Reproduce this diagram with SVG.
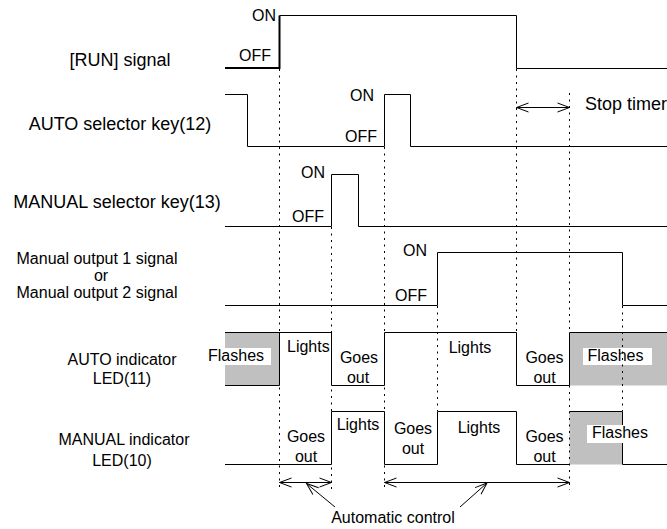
<svg xmlns="http://www.w3.org/2000/svg" width="667" height="529" viewBox="0 0 667 529">
<defs>
<style>
text{font-family:"Liberation Sans",Arial,sans-serif;font-size:16px;fill:#000}
.big{font-size:18px}
.m{text-anchor:middle}
.e{text-anchor:end}
.sig{fill:none;stroke:#000;stroke-width:1}
.thick{fill:none;stroke:#000;stroke-width:2}
.dot{fill:none;stroke:#000;stroke-width:1;stroke-dasharray:2 4.5}
.arr{fill:none;stroke:#000;stroke-width:1;marker-end:url(#ah)}
.darr{fill:none;stroke:#000;stroke-width:1;marker-start:url(#ah);marker-end:url(#ah)}
.gray{fill:#c0c0c0;stroke:none}
.wbg{fill:#fff;stroke:none}
</style>
<marker id="ah" viewBox="-13 -6 14 12" refX="0" refY="0" markerWidth="14" markerHeight="12" markerUnits="userSpaceOnUse" orient="auto-start-reverse">
<path d="M-12,-4.5 L0,0 L-12,4.5" fill="none" stroke="#000" stroke-width="1"/>
</marker>
</defs>
<rect width="667" height="529" fill="#fff"/>

<g id="run-signal">
<text class="big m" x="120" y="66">[RUN] signal</text>
<text class="e" x="276" y="21">ON</text>
<text class="e" x="271" y="61">OFF</text>
<path class="thick" d="M225,68 H279.5 V15.5"/>
<path class="sig" d="M279.5,15.5 H516.5 V68.5 H667"/>
</g>

<g id="auto-selector-key">
<text class="big m" x="120" y="130">AUTO selector key(12)</text>
<text class="e" x="374" y="101">ON</text>
<text class="e" x="377" y="142">OFF</text>
<path class="sig" d="M225,94.5 H247.5 V146.5 H384.5 V94.5 H410.5 V146.5 H667"/>
<text class="big" x="585" y="110">Stop timer</text>
</g>

<g id="manual-selector-key">
<text class="big m" x="117" y="208">MANUAL selector key(13)</text>
<text class="e" x="325" y="178">ON</text>
<text class="e" x="324" y="222">OFF</text>
<path class="sig" d="M225,226.5 H331.5 V174.5 H358.5 V226.5 H667"/>
</g>

<g id="manual-output-signal">
<text class="m" x="97" y="264">Manual output 1 signal</text>
<text class="m" x="101" y="281">or</text>
<text class="m" x="97" y="298">Manual output 2 signal</text>
<text class="e" x="427" y="256">ON</text>
<text class="e" x="427" y="301">OFF</text>
<path class="sig" d="M225,305.5 H437.5 V252.5 H622.5 V305.5 H667"/>
</g>

<g id="auto-indicator-led">
<text class="m" x="122" y="365">AUTO indicator</text>
<text class="m" x="122" y="384">LED(11)</text>
<rect class="gray" x="225" y="332.5" width="54.5" height="53"/>
<rect class="gray" x="569.5" y="332.5" width="97.5" height="53"/>
<path class="sig" d="M225,332.5 H331.5 V385.5 H384.5 V332.5 H516.5 V385.5 H569.5 V332.5 H667"/>
<path class="sig" d="M225,385.5 H279.5 V332.5"/>
<rect class="wbg" x="205" y="348" width="66" height="17"/>
<text x="208" y="361">Flashes</text>
<text x="287" y="352">Lights</text>
<text class="m" x="359" y="363">Goes</text>
<text class="m" x="358" y="383">out</text>
<text class="m" x="470" y="353">Lights</text>
<text class="m" x="544.5" y="363">Goes</text>
<text class="m" x="544.5" y="383">out</text>
<rect class="wbg" x="583" y="348" width="69" height="17"/>
<text class="m" x="615.5" y="361">Flashes</text>
</g>

<g id="manual-indicator-led">
<text class="m" x="124" y="445">MANUAL indicator</text>
<text class="m" x="122" y="466">LED(10)</text>
<rect class="gray" x="569.5" y="411.5" width="53" height="53"/>
<path class="sig" d="M225,464.5 H331.5 V411.5 H384.5 V464.5 H437.5 V411.5 H516.5 V464.5 H569.5 M569.5,411.5 H622.5 V464.5 H667"/>
<text class="m" x="306" y="442">Goes</text>
<text class="m" x="306" y="462">out</text>
<text class="m" x="358" y="430">Lights</text>
<text class="m" x="413" y="434">Goes</text>
<text class="m" x="413" y="454">out</text>
<text class="m" x="479" y="433">Lights</text>
<text class="m" x="544.5" y="442">Goes</text>
<text class="m" x="544.5" y="462">out</text>
<rect class="wbg" x="587" y="425" width="63" height="18"/>
<text class="m" x="620" y="438">Flashes</text>
</g>

<g id="connectors">
<path class="dot" d="M279.5,69 V490"/>
<path class="dot" d="M331.5,227 V490"/>
<path class="dot" d="M384.5,147 V490"/>
<path class="dot" d="M437.5,306 V411"/>
<path class="dot" d="M516.5,69 V332"/>
<path class="dot" d="M569.5,93 V490"/>
<path class="dot" d="M622.5,306 V411"/>
<path class="darr" d="M516.5,107.5 H569.5"/>
<path class="darr" d="M279.5,482.5 H331.5"/>
<path class="darr" d="M384.5,482.5 H569.5"/>
<path class="arr" d="M335,507 L306.5,483.5"/>
<path class="arr" d="M460,507 L487,483"/>
</g>

<g id="automatic-control-label">
<text class="m" x="393" y="523">Automatic control</text>
</g>
</svg>
